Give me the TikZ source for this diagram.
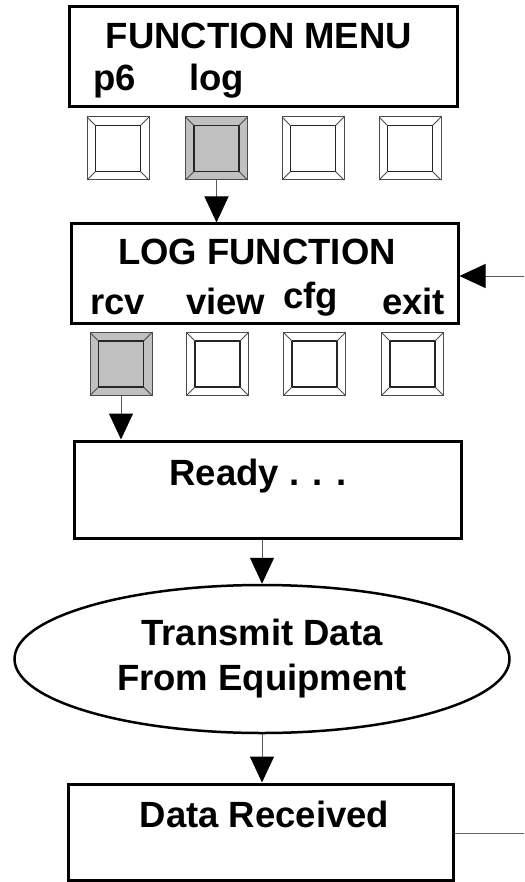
\documentclass[tikz,border=0pt]{standalone}
\usepackage{fontspec}
\setmainfont{Liberation Sans}
\usetikzlibrary{arrows.meta,shapes.geometric}
\definecolor{keygray}{RGB}{192,192,192}

\begin{document}
\begin{tikzpicture}[x=1pt,y=-1pt,inner sep=0pt,
font=\fontsize{36.5}{45}\selectfont\bfseries,
screen/.style={draw,rectangle,line width=3pt,minimum width=388pt,minimum height=100pt},
keyout/.style={draw=black!70,line width=1pt,outer sep=0pt,minimum width=62pt,minimum height=63pt},
keyin/.style={draw=black!85,line width=1.5pt,outer sep=0pt,minimum width=45pt,minimum height=46pt},
flow/.style={draw=black!65,line width=1pt,-{Triangle[length=26pt,width=24pt,color=black]}}]
\useasboundingbox (0,0) rectangle (524,882);
% function menu screen
\draw (263,57) node[screen] (menu) {};
\draw (259,49) node[anchor=base] (menutitle) {FUNCTION MENU};
\draw (93,91) node[anchor=base west] (p6) {p6};
\draw (189,91) node[anchor=base west] (log) {log};
% soft keys under the menu
\foreach \x/\c [count=\i] in {118/white,216.5/keygray,313/white,410/white}{
  \node[keyout,fill=\c] (ka\i) at (\x,148.5) {};
  \node[keyin] (kai\i) at (ka\i) {};
  \foreach \a in {north west,north east,south west,south east}
    \draw[black!70,line width=1pt] (ka\i.\a) -- (kai\i.\a);
}
% log function screen
\draw (264.5,273.5) node[screen,minimum width=387pt,minimum height=99pt] (logfn) {};
\draw (257,265) node[anchor=base] (logtitle) {LOG FUNCTION};
\draw (90,314) node[anchor=base west] (rcv) {rcv};
\draw (186,314) node[anchor=base west] (view) {view};
\draw (283,308) node[anchor=base west] (cfg) {cfg};
\draw (382,314) node[anchor=base west] (exit) {exit};
\foreach \x/\c [count=\i] in {121/keygray,217.5/white,314.5/white,412.5/white}{
  \node[keyout,fill=\c] (kb\i) at (\x,364) {};
  \node[keyin] (kbi\i) at (kb\i) {};
  \foreach \a in {north west,north east,south west,south east}
    \draw[black!70,line width=1pt] (kb\i.\a) -- (kbi\i.\a);
}
% ready, transmit, received
\draw (267.5,489.5) node[screen,minimum width=387pt,minimum height=97pt] (ready) {};
\draw (258,485) node[anchor=base] (readytext) {Ready . . .};
\draw (262,659) node[ellipse,draw,line width=2.5pt,minimum width=495pt,minimum height=148pt,align=center] (transmit) {Transmit Data\\From Equipment};
\draw (260.5,832) node[screen,minimum width=385pt,minimum height=96pt] (data) {};
\draw (264.5,827) node[anchor=base] (datatext) {Data Received};
\coordinate (back) at (524,276);
\coordinate (onward) at (524,833);
% connectors
\draw[flow] (ka2.south) -- (ka2.south |- logfn.north);
\draw[flow] (back) -- (back -| logfn.east);
\draw[flow] (kb1.south) -- (kb1.south |- ready.north);
\draw[flow] (ready.south -| transmit.north) -- (transmit.north);
\draw[flow] (transmit.south) -- (transmit.south |- data.north);
\draw[black!60,line width=1pt] (data.east |- onward) -- (onward);
\end{tikzpicture}
\end{document}
